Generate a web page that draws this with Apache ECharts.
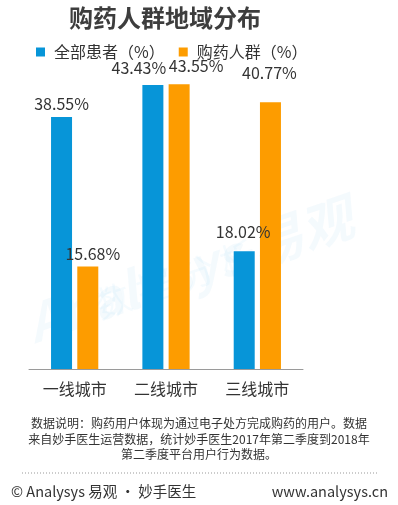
<!DOCTYPE html>
<html>
<head>
<meta charset="utf-8">
<script src="https://cdn.jsdelivr.net/npm/echarts@6/dist/echarts.min.js"></script>
<style>
html,body{margin:0;padding:0;background:#fff;}
#c{width:398px;height:505px;}
</style>
</head>
<body>
<div id="c"></div>
<script>
const categories = ['一线城市', '二线城市', '三线城市'];
const seriesNames = ['全部患者（%）', '购药人群（%）'];
const allPatients = [38.55, 43.43, 18.02];
const buyers = [15.68, 43.55, 40.77];
const labelOffsetsA = [[0, 0], [-14, -4], [-1, -6]];
const labelOffsetsB = [[5, 0], [17, -5], [-1, -16]];

const FONT = '"Noto Sans CJK SC", "Noto Sans", sans-serif';
const chart = echarts.init(document.getElementById('c'), null, {renderer: 'canvas'});

function mkData(vals, offs) {
  return vals.map((v, i) => ({value: v, label: {offset: offs[i]}}));
}

const option = {
  backgroundColor: '#ffffff',
  animation: false,
  title: {
    text: '购药人群地域分布',
    left: 64, top: 1,
    textStyle: {fontSize: 24, fontWeight: 'bold', color: '#3d3d3d', fontFamily: FONT}
  },
  legend: {
    data: seriesNames,
    left: 31, top: 39,
    itemWidth: 9, itemHeight: 9, itemGap: 14,
    icon: 'rect',
    textStyle: {fontSize: 16, color: '#333', fontFamily: FONT, padding: [0, 0, 0, 4]}
  },
  graphic: [
    {type: 'text', left: 20, top: 190, rotation: 0.33, z: 0,
     style: {text: 'Analysys 易观', font: 'italic bold 52px ' + FONT, fill: 'rgba(10,148,218,0.045)'}},
    {type: 'text', left: 90, top: 235, rotation: 0.33, z: 0,
     style: {text: '数 据 分 析', font: '36px ' + FONT, fill: 'rgba(10,148,218,0.04)'}},
    {type: 'text', left: 'center', top: 416,
     style: {text: '数据说明：购药用户体现为通过电子处方完成购药的用户。数据\n来自妙手医生运营数据，统计妙手医生2017年第二季度到2018年\n第二季度平台用户行为数据。',
             textAlign: 'center', font: '12px ' + FONT, fill: '#333', lineHeight: 15.5}},
    {type: 'line', shape: {x1: 22, y1: 473, x2: 378, y2: 473},
     style: {stroke: '#999', lineWidth: 1, lineDash: [1, 2]}},
    {type: 'text', left: 11, top: 484,
     style: {text: '© Analysys 易观 · 妙手医生', font: '14.5px ' + FONT, fill: '#333'}},
    {type: 'text', right: 10, top: 484,
     style: {text: 'www.analysys.cn', font: '14.5px ' + FONT, fill: '#333'}}
  ],
  grid: {left: 29, right: 95, top: 42, bottom: 136, containLabel: false},
  xAxis: {
    type: 'category',
    data: categories,
    axisLine: {lineStyle: {color: '#9a9a9a', width: 1}},
    axisTick: {show: false},
    axisLabel: {fontSize: 16, color: '#333', margin: 12, fontFamily: FONT}
  },
  yAxis: {
    type: 'value', min: 0, max: 50, show: false,
    splitLine: {show: false}
  },
  series: [
    {
      name: seriesNames[0], type: 'bar', barWidth: 21, barGap: '25%',
      itemStyle: {color: '#0795d8'},
      label: {show: true, position: 'top', distance: 5, fontSize: 16, color: '#333', fontFamily: FONT,
              formatter: p => p.value.toFixed(2) + '%'},
      data: mkData(allPatients, labelOffsetsA)
    },
    {
      name: seriesNames[1], type: 'bar', barWidth: 21, barGap: '25%',
      itemStyle: {color: '#fd9c00'},
      label: {show: true, position: 'top', distance: 5, fontSize: 16, color: '#333', fontFamily: FONT,
              formatter: p => p.value.toFixed(2) + '%'},
      data: mkData(buyers, labelOffsetsB)
    }
  ]
};
chart.setOption(option);
</script>
</body>
</html>
